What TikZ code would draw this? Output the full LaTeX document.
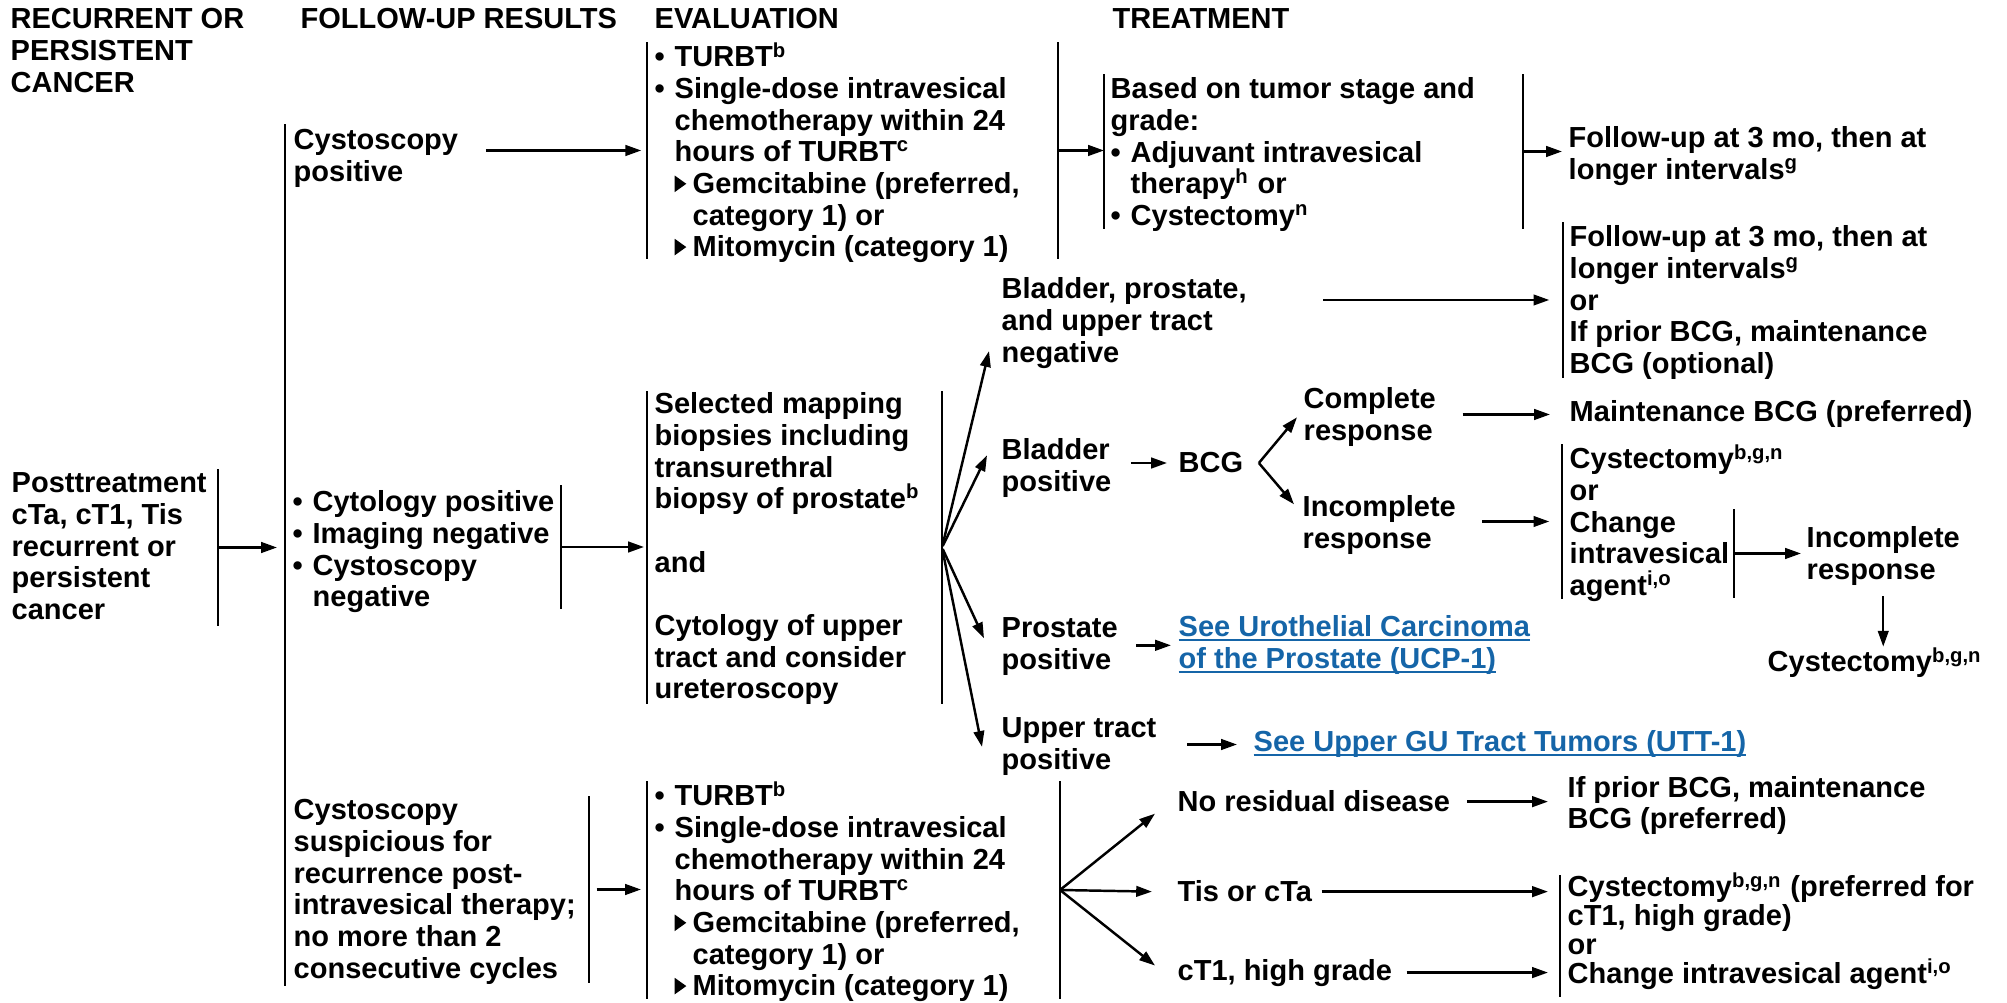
\documentclass[tikz,border=0pt]{standalone}
\usepackage{fontspec}
\setmainfont{Liberation Sans}
\usepackage{tikz}
\usetikzlibrary{arrows.meta, positioning}
\definecolor{linkblue}{RGB}{21,101,168}
\newcommand{\bul}{\makebox[0.69em][l]{\textbullet}}
\newcommand{\ind}{\hspace*{0.69em}}
\newcommand{\tri}{\makebox[0.62em][l]{\tikz[baseline=0pt]\fill (0,0.05em) -- (0,0.62em) -- (0.4em,0.335em) -- cycle;}}
\newcommand{\ulink}[1]{\setbox0=\hbox{#1}\rlap{\rule[-0.14em]{\wd0}{0.07em}}\box0}

\begin{document}
\begin{tikzpicture}[
    font=\bfseries\fontsize{8.25}{9}\selectfont,
    >={Triangle[length=4.5pt,width=3pt]},
    txt/.style={inner sep=0pt, anchor=base west, align=left},
    nl/.style={yshift={-(#1-1)*9pt}},
    lnk/.style={txt, text=linkblue},
    bar/.style={inner sep=0pt, minimum width=0pt,
      append after command={(\tikzlastnode.north) edge[line width=0.55pt] (\tikzlastnode.south)}},
    arr/.style={->, line width=0.7pt}
  ]
  \useasboundingbox (0,0) rectangle (20.07,-10.03);

  % 表头
  \node[txt, nl=3] (hRec) at (0.10,-0.29) {RECURRENT OR\\PERSISTENT\\CANCER};
  \node[txt] (hFol) at (3.00,-0.29) {FOLLOW-UP RESULTS};
  \node[txt] (hEva) at (6.54,-0.29) {EVALUATION};
  \node[txt] (hTre) at (11.12,-0.29) {TREATMENT};

  % 竖线
  \node[bar, minimum height=1.55cm] (postBar) at (2.18,-5.475) {};
  \node[bar, minimum height=8.60cm] (bigBar) at (2.85,-5.55) {};
  \node[bar, minimum height=2.15cm] (evalAl) at (6.47,-1.505) {};
  \node[bar, minimum height=2.15cm] (evalAr) at (10.58,-1.505) {};
  \node[bar, minimum height=1.53cm] (treatAl) at (11.04,-1.515) {};
  \node[bar, minimum height=1.53cm] (treatAr) at (15.23,-1.515) {};
  \node[bar, minimum height=1.54cm] (fupBl) at (15.63,-3.00) {};
  \node[bar, minimum height=1.22cm] (cytoR) at (5.61,-5.47) {};
  \node[bar, minimum height=3.11cm] (mapL) at (6.47,-5.475) {};
  \node[bar, minimum height=3.11cm] (mapR) at (9.42,-5.475) {};
  \node[bar, minimum height=1.53cm] (cys3L) at (15.62,-5.215) {};
  \node[bar, minimum height=0.87cm] (chgR) at (17.34,-5.535) {};
  \node[bar, minimum height=1.85cm] (suspR) at (5.89,-8.895) {};
  \node[bar, minimum height=2.16cm] (evalBl) at (6.47,-8.90) {};
  \node[bar, minimum height=2.16cm] (evalBr) at (10.60,-8.90) {};
  \node[bar, minimum height=1.20cm] (cys5L) at (15.60,-9.36) {};

  % 文字
  \node[txt, nl=5] (post) at (0.11,-4.93) {Posttreatment\\cTa, cT1, Tis\\recurrent or\\persistent\\cancer};
  \node[txt, nl=2] (cpos) at (2.93,-1.50) {Cystoscopy\\positive};
  \node[txt, nl=7] (evalA) at (6.54,-0.67) {\bul TURBT\textsuperscript{b}\\
    \bul Single-dose intravesical\\
    \ind chemotherapy within 24\\
    \ind hours of TURBT\textsuperscript{c}\\
    \ind\tri Gemcitabine (preferred,\\
    \ind\hspace*{0.62em}category 1) or\\
    \ind\tri Mitomycin (category 1)};
  \node[txt, nl=5] (treatA) at (11.10,-0.99) {Based on tumor stage and\\grade:\\\bul Adjuvant intravesical\\\ind therapy\textsuperscript{h} or\\\bul Cystectomy\textsuperscript{n}};
  \node[txt, nl=2] (fupA) at (15.68,-1.48) {Follow-up at 3 mo, then at\\longer intervals\textsuperscript{g}};
  \node[txt, nl=5] (fupB) at (15.69,-2.47) {Follow-up at 3 mo, then at\\longer intervals\textsuperscript{g}\\or\\If prior BCG, maintenance\\BCG (optional)};
  \node[txt, nl=3] (bpu) at (10.01,-2.99) {Bladder, prostate,\\and upper tract\\negative};
  \node[txt, nl=4] (cyto) at (2.92,-5.12) {\bul Cytology positive\\\bul Imaging negative\\\bul Cystoscopy\\\ind negative};
  \node[txt, nl=10] (map) at (6.54,-4.14) {Selected mapping\\biopsies including\\transurethral\\biopsy of prostate\textsuperscript{b}\\ \\and\\ \\Cytology of upper\\tract and consider\\ureteroscopy};
  \node[txt, nl=2] (bladpos) at (10.01,-4.60) {Bladder\\positive};
  \node[txt] (bcg) at (11.78,-4.73) {BCG};
  \node[txt, nl=2] (comp) at (13.03,-4.09) {Complete\\response};
  \node[txt, nl=2] (incomp) at (13.02,-5.17) {Incomplete\\response};
  \node[txt] (maint) at (15.69,-4.22) {Maintenance BCG (preferred)};
  \node[txt, nl=5] (cys3) at (15.69,-4.69) {Cystectomy\textsuperscript{b,g,n}\\or\\Change\\intravesical\\agent\textsuperscript{i,o}};
  \node[txt, nl=2] (incomp2) at (18.06,-5.48) {Incomplete\\response};
  \node[txt] (cyst4) at (17.67,-6.72) {Cystectomy\textsuperscript{b,g,n}};
  \node[txt, nl=2] (propos) at (10.01,-6.38) {Prostate\\positive};
  \node[lnk, nl=2] (ucp) at (11.78,-6.37) {\ulink{See Urothelial Carcinoma}\\\ulink{of the Prostate (UCP-1)}};
  \node[txt, nl=2] (uppos) at (10.01,-7.38) {Upper tract\\positive};
  \node[lnk] (utt) at (12.53,-7.52) {\ulink{See Upper GU Tract Tumors (UTT-1)}};
  \node[txt, nl=6] (susp) at (2.93,-8.20) {Cystoscopy\\suspicious for\\recurrence post-\\intravesical therapy;\\no more than 2\\consecutive cycles};
  \node[txt, nl=7] (evalB) at (6.54,-8.06) {\bul TURBT\textsuperscript{b}\\
    \bul Single-dose intravesical\\
    \ind chemotherapy within 24\\
    \ind hours of TURBT\textsuperscript{c}\\
    \ind\tri Gemcitabine (preferred,\\
    \ind\hspace*{0.62em}category 1) or\\
    \ind\tri Mitomycin (category 1)};
  \node[txt] (nores) at (11.77,-8.12) {No residual disease};
  \node[txt] (tis) at (11.77,-9.02) {Tis or cTa};
  \node[txt] (ct1) at (11.77,-9.80) {cT1, high grade};
  \node[txt, nl=2] (ifprior) at (15.67,-7.97) {If prior BCG, maintenance\\BCG (preferred)};
  \node[txt, yshift=-24.6pt, font=\bfseries\fontsize{8.25}{8.2}\selectfont] (cys5) at (15.67,-8.97) {Cystectomy\textsuperscript{b,g,n} (preferred for\\cT1, high grade)\\or\\Change intravesical agent\textsuperscript{i,o}};

  % 箭头
  \draw[arr, shorten >=0.08cm] (postBar) -- (postBar -| bigBar);
  \draw[arr, shorten <=0.27cm, shorten >=0.05cm] (evalAl -| cpos.east) -- (evalAl);
  \draw[arr] (evalAr) -- (evalAr -| treatAl);
  \draw[arr, shorten >=0.06cm] (treatAr) -- (treatAr -| fupA.west);
  \draw[arr, shorten <=0.76cm, shorten >=0.13cm] (fupBl -| bpu.east) -- (fupBl);
  \draw[arr, shorten >=0.03cm] (cytoR) -- (cytoR -| mapL);
  \draw[arr] (mapR) -- ([xshift=-0.12cm,yshift=0.18cm]bpu.south west);
  \draw[arr] (mapR) -- ([xshift=-0.14cm,yshift=0.13cm]bladpos.west);
  \draw[arr] (mapR) -- ([xshift=-0.17cm,yshift=0.085cm]propos.west);
  \draw[arr] (mapR) -- ([xshift=-0.19cm]uppos.west);
  \draw[arr, shorten <=0.19cm, shorten >=0.11cm] (bladpos.east |- bcg) -- (bcg);
  \draw[arr] ([xshift=0.15cm]bcg.east) -- ([xshift=-0.06cm]comp.west);
  \draw[arr] ([xshift=0.15cm]bcg.east) -- ([xshift=-0.08cm,yshift=0.21cm]incomp.west);
  \draw[arr, shorten <=0.26cm, shorten >=0.19cm] (comp.east |- maint) -- (maint);
  \draw[arr, shorten <=0.26cm, shorten >=0.12cm] (cys3L -| incomp.east) -- (cys3L);
  \draw[arr, shorten >=0.05cm] (chgR) -- (chgR -| incomp2.west);
  \draw[arr, shorten <=0.10cm] (incomp2.south) -- (incomp2.south |- cyst4.north);
  \draw[arr, shorten <=0.18cm, shorten >=0.07cm] (propos.east |- ucp) -- (ucp);
  \draw[arr, shorten <=0.30cm, shorten >=0.16cm] (uppos.east |- utt) -- (utt);
  \draw[arr, shorten <=0.07cm, shorten >=0.06cm] (suspR) -- (suspR -| evalBl);
  \draw[arr] (evalBr) -- ([xshift=-0.22cm,yshift=-0.12cm]nores.west);
  \draw[arr] (evalBr) -- ([xshift=-0.25cm]tis.west);
  \draw[arr] (evalBr) -- ([xshift=-0.22cm,yshift=0.07cm]ct1.west);
  \draw[arr, shorten <=0.16cm, shorten >=0.19cm] (nores) -- (nores -| ifprior.west);
  \draw[arr, shorten <=0.09cm, shorten >=0.12cm] (tis) -- (tis -| cys5L);
  \draw[arr, shorten <=0.14cm, shorten >=0.12cm] (ct1) -- (ct1 -| cys5L);
\end{tikzpicture}
\end{document}
